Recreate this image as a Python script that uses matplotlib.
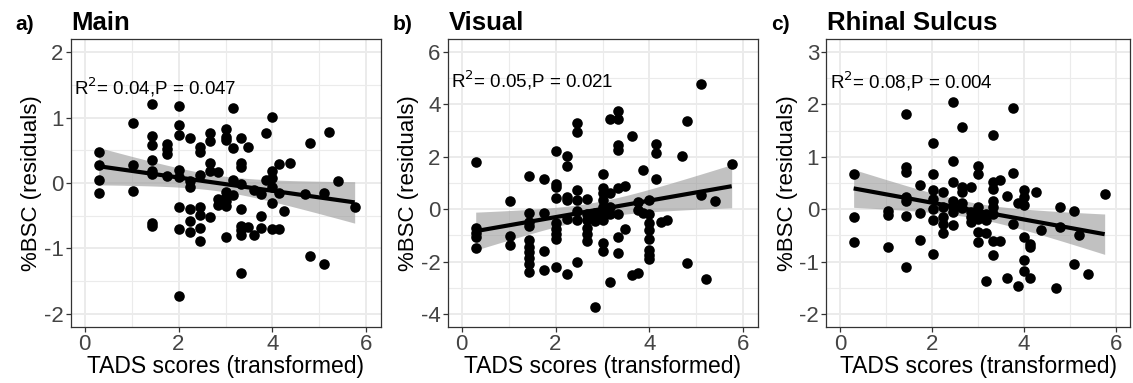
import numpy as np
import matplotlib
matplotlib.use("Agg")
import matplotlib.pyplot as plt
from matplotlib.ticker import MultipleLocator

plt.rcParams['font.family'] = ['Liberation Sans', 'DejaVu Sans']
plt.rcParams['axes.unicode_minus'] = False

# ---------------- data ----------------
main_x = [0.30, 0.30, 0.30, 0.30,
          1.03, 1.03, 1.03,
          1.44, 1.44, 1.44, 1.44, 1.44, 1.44, 1.44, 1.44,
          1.75, 1.75, 1.75, 1.75,
          2.01, 2.01, 2.01, 2.01, 2.01, 2.01, 2.01, 2.01,
          2.25, 2.25, 2.25, 2.25, 2.25, 2.25,
          2.46, 2.46, 2.46, 2.46, 2.46, 2.46, 2.46,
          2.66, 2.66, 2.66, 2.66, 2.66,
          2.85, 2.85, 2.85,
          3.01, 3.01, 3.01, 3.01, 3.01, 3.01, 3.01, 3.01,
          3.17, 3.17, 3.17, 3.17,
          3.32, 3.32, 3.32, 3.32, 3.32, 3.32, 3.32, 3.32, 3.32,
          3.47, 3.47,
          3.60, 3.60,
          3.75, 3.75, 3.75,
          3.87, 3.87,
          4.00, 4.00, 4.00, 4.00, 4.00, 4.00,
          4.13, 4.13, 4.13,
          4.25, 4.37, 4.69, 4.79, 4.79, 5.09, 5.09, 5.20, 5.39, 5.75]
main_y = [0.47, 0.28, 0.05, -0.16,
          0.92, 0.28, -0.12,
          1.20, 0.72, 0.58, 0.35, 0.19, 0.13, -0.61, -0.66,
          0.60, 0.52, 0.45, 0.11,
          1.17, 0.88, 0.73, 0.20, 0.09, -0.37, -0.71, -1.73,
          0.69, 0.03, -0.06, -0.39, -0.58, -0.75,
          0.55, 0.48, 0.12, -0.37, -0.49, -0.69, -0.88,
          0.77, 0.64, 0.30, 0.19, -0.52,
          0.17, -0.24, -0.33,
          0.82, 0.71, 0.65, -0.13, -0.21, -0.28, -0.35, -0.82,
          1.14, 0.53, 0.04, -0.19,
          0.68, 0.30, 0.24, -0.02, -0.39, -0.65, -0.72, -0.79, -1.37,
          0.55, -0.67,
          -0.10, -0.80,
          -0.17, -0.51, -0.68,
          0.77, 0.04,
          1.01, 0.19, 0.07, -0.06, -0.31, -0.70,
          0.29, -0.16, -0.70,
          -0.43, 0.31, -0.17, 0.61, -1.11, -0.15, -1.23, 0.78, 0.03, -0.37]

visual_x = [0.30, 0.30, 0.30, 0.30, 0.30,
            1.04, 1.04, 1.04,
            1.44, 1.44, 1.44, 1.44, 1.44, 1.44, 1.44, 1.44, 1.44, 1.44,
            1.75, 1.75, 1.75, 1.75,
            2.02, 2.02, 2.02, 2.02, 2.02, 2.02, 2.02, 2.02, 2.02,
            2.25, 2.25, 2.25, 2.25, 2.25, 2.25,
            2.46, 2.46, 2.46, 2.46, 2.46, 2.46, 2.46,
            2.66, 2.66, 2.66, 2.66, 2.66, 2.66,
            2.85, 2.85, 2.85, 2.85,
            3.01, 3.01, 3.01, 3.01, 3.01, 3.01, 3.01, 3.01, 3.01, 3.01,
            3.17, 3.17, 3.17, 3.17, 3.17,
            3.32, 3.32, 3.32, 3.32, 3.32, 3.32, 3.32, 3.32,
            3.47, 3.47,
            3.62, 3.62,
            3.75, 3.75, 3.75,
            3.87, 3.87,
            4.00, 4.00, 4.00, 4.00, 4.00, 4.00, 4.00, 4.00,
            4.13, 4.13, 4.13,
            4.25, 4.37, 4.69, 4.79, 4.79, 5.09, 5.09, 5.20, 5.39, 5.75]
visual_y = [1.81, -0.72, -0.90, -1.06, -1.48,
            0.32, -1.03, -1.37,
            1.27, -0.15, -0.50, -0.65, -1.18, -1.45, -1.65, -1.88, -2.10, -2.39,
            1.14, -0.15, -1.61, -2.33,
            2.23, 0.97, 0.85, 0.43, -0.52, -0.74, -0.93, -1.12, -2.20,
            2.03, 1.65, 0.48, 0.34, -0.36, -2.46,
            3.30, 2.95, 0.72, 0.36, -0.08, -0.40, -2.01,
            0.40, -0.17, -0.42, -0.70, -0.93, -1.21,
            -0.15, -0.30, -0.45, -3.75,
            1.34, 0.79, 0.60, 0.34, 0.09, -0.10, -0.25, -0.42, -1.31, -1.60,
            3.46, 0.62, 0.10, -0.17, -2.80,
            3.75, 3.44, 2.44, 2.26, 0.82, -0.17, -1.08, -1.68,
            0.88, -0.74,
            2.80, -2.52,
            0.28, -0.05, -2.43,
            1.49, -0.14,
            0.34, -0.17, -0.52, -0.80, -1.12, -1.56, -1.76, -1.92,
            2.48, 2.13, 1.16,
            -0.48, -0.40, 2.04, 3.37, -2.07, 4.77, 0.53, -2.68, 0.31, 1.74]

rhinal_x = [0.30, 0.30, 0.30,
            1.04, 1.04, 1.04,
            1.44, 1.44, 1.44, 1.44, 1.44, 1.44, 1.44,
            1.75, 1.75, 1.75,
            2.02, 2.02, 2.02, 2.02, 2.02, 2.02, 2.02,
            2.25, 2.25, 2.25, 2.25, 2.25,
            2.46, 2.46, 2.46, 2.46, 2.46, 2.46, 2.46,
            2.66, 2.66, 2.66, 2.66, 2.66,
            2.85, 2.85, 2.85, 2.85,
            3.01, 3.01, 3.01, 3.01, 3.01, 3.01, 3.01,
            3.17, 3.17, 3.17, 3.17,
            3.32, 3.32, 3.32, 3.32, 3.32, 3.32, 3.32, 3.32,
            3.47, 3.47,
            3.62, 3.62,
            3.75, 3.75, 3.75,
            3.87, 3.87,
            4.00, 4.00, 4.00, 4.00, 4.00, 4.00,
            4.13, 4.13, 4.13,
            4.25, 4.37, 4.69, 4.79, 4.79, 5.09, 5.09, 5.20, 5.39, 5.75]
rhinal_y = [0.68, -0.15, -0.62,
            -0.03, -0.11, -0.72,
            1.81, 0.80, 0.71, 0.23, 0.16, -0.13, -1.11,
            0.46, -0.08, -0.58,
            1.26, 0.67, 0.37, 0.20, 0.01, -0.21, -0.85,
            0.33, 0.05, -0.14, -0.28, -0.45,
            2.04, 0.92, 0.52, 0.15, 0.05, -0.05, -0.31,
            1.57, 0.43, 0.33, 0.12, 0.02,
            0.42, -0.05, -0.15, -0.25,
            0.82, 0.68, 0.05, -0.08, -0.18, -0.43, -0.62,
            -0.10, -0.20, -0.46, -1.38,
            1.41, 0.52, 0.39, 0.15, 0.05, -0.10, -0.60, -0.88,
            0.55, -0.60,
            0.25, -1.32,
            1.94, 0.69, -0.29,
            0.11, -1.47,
            0.37, 0.23, 0.08, -0.53, -0.98, -1.19,
            -0.67, -0.72, -1.32,
            0.33, -0.39, -1.50, 0.04, -0.34, -0.03, -1.05, -0.50, -1.24, 0.29]

panel_tags = ["a)", "b)", "c)"]
panel_titles = ["Main", "Visual", "Rhinal Sulcus"]
stats_labels = ["0.04,P = 0.047", "0.05,P = 0.021", "0.08,P = 0.004"]
y_limits = [(-2, 2), (-4, 6), (-2, 3)]
y_majors = [1, 2, 1]
x_label = "TADS scores (transformed)"
y_label = "%BSC (residuals)"

series = [(main_x, main_y), (visual_x, visual_y), (rhinal_x, rhinal_y)]

# ---------------- layout ----------------
W, H = 1133, 383
fig = plt.figure(figsize=(W / 100, H / 100), dpi=100)
top_px, bot_px = 39, 327
lefts = [70.5, 447.5, 826]
rights = [380.5, 757.5, 1130]
text_y = [87, 80, 81]

grid_col = "#EBEBEB"
for i in range(3):
    l, r = lefts[i], rights[i]
    ax = fig.add_axes([l / W, 1 - bot_px / H, (r - l) / W, (bot_px - top_px) / H])
    x = np.array(series[i][0])
    y = np.array(series[i][1])
    lo, hi = y_limits[i]
    ax.set_xlim(0 - 0.3, 6 + 0.3)
    pad = (hi - lo) * 0.05
    ax.set_ylim(lo - pad, hi + pad)
    ax.xaxis.set_major_locator(MultipleLocator(2))
    ax.xaxis.set_minor_locator(MultipleLocator(1))
    ax.yaxis.set_major_locator(MultipleLocator(y_majors[i]))
    ax.yaxis.set_minor_locator(MultipleLocator(y_majors[i] / 2))
    ax.grid(which="major", color=grid_col, linewidth=1.4, zorder=0)
    ax.grid(which="minor", color=grid_col, linewidth=0.8, zorder=0)
    ax.set_axisbelow(True)
    for s in ax.spines.values():
        s.set_color("#333333")
        s.set_linewidth(0.9)
    ax.tick_params(which="major", length=3.5, width=0.9, color="#333333",
                   labelsize=16, labelcolor="#444444", pad=1.5)
    ax.tick_params(which="minor", length=0)

    # linear fit with 95% confidence band
    n = len(x)
    b1, b0 = np.polyfit(x, y, 1)
    xs = np.linspace(x.min(), x.max(), 100)
    yfit = b0 + b1 * xs
    resid = y - (b0 + b1 * x)
    s_err = np.sqrt(np.sum(resid ** 2) / (n - 2))
    sxx = np.sum((x - x.mean()) ** 2)
    se = s_err * np.sqrt(1 / n + (xs - x.mean()) ** 2 / sxx)
    tcrit = 1.98
    ax.fill_between(xs, yfit - tcrit * se, yfit + tcrit * se,
                    color="#999999", alpha=0.6, linewidth=0, zorder=2)
    ax.scatter(x, y, s=58, color="black", linewidths=0, zorder=3)
    ax.plot(xs, yfit, color="black", linewidth=3, zorder=4,
            solid_capstyle="butt")

    ax.text(0.012, 1 - (text_y[i] - top_px) / (bot_px - top_px),
            r"R$^2$= " + stats_labels[i], transform=ax.transAxes,
            ha="left", va="center", fontsize=13.5, color="black")

    ax.set_xlabel(x_label, fontsize=16.5, labelpad=0)
    ax.set_ylabel(y_label, fontsize=16, labelpad=1)

    ax.text(l / W - 55 / W, 1 - 30 / H, panel_tags[i], transform=fig.transFigure,
            fontsize=15, fontweight="bold", ha="left", va="baseline")
    ax.text(l / W + 1 / W, 1 - 30 / H, panel_titles[i], transform=fig.transFigure,
            fontsize=18.5, fontweight="bold", ha="left", va="baseline")

fig.savefig("out.png", dpi=100)
